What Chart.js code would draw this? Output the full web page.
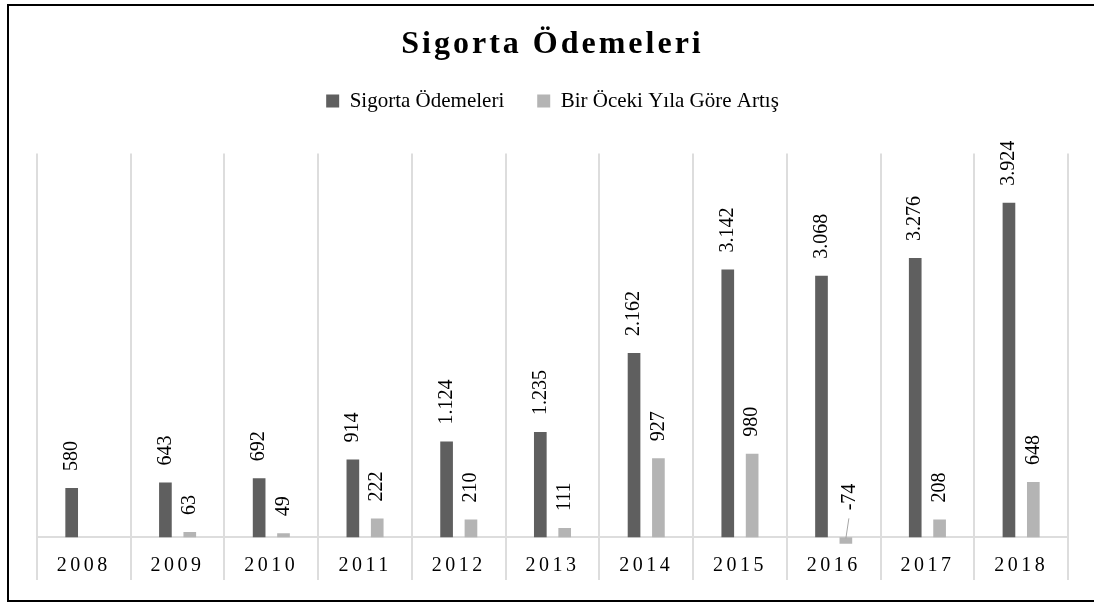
<!DOCTYPE html>
<html lang="tr">
<head>
<meta charset="utf-8">
<title>Sigorta Ödemeleri</title>
<script src="https://cdn.jsdelivr.net/npm/chart.js@4.4.1/dist/chart.umd.min.js"></script>
<style>
  html, body { margin: 0; padding: 0; background: #fff; overflow: hidden; }
  #frame { position: absolute; left: 7px; top: 4px; width: 1200px; height: 594px; border: 2px solid #000; }
  #wrap { position: absolute; left: 0; top: 0; width: 1094px; height: 610px; }
</style>
</head>
<body>
<div id="frame"></div>
<div id="wrap"><canvas id="chart"></canvas></div>
<script>
// Chart data
const years = ['2008', '2009', '2010', '2011', '2012', '2013', '2014', '2015', '2016', '2017', '2018'];
const sigortaOdemeleri = [580, 643, 692, 914, 1124, 1235, 2162, 3142, 3068, 3276, 3924];
const yillikArtis = [null, 63, 49, 222, 210, 111, 927, 980, -74, 208, 648];
const seriesNames = ['Sigorta Ödemeleri', 'Bir Öceki Yıla Göre Artış'];
const chartTitle = 'Sigorta Ödemeleri';

const FONT = '"Liberation Serif", "Times New Roman", serif';
const DARK = '#5f5f5f';
const LIGHT = '#b4b4b4';
const GRID = '#dddddd';

// 3924 -> "3.924"
function fmt(v) {
  return String(v).replace(/\B(?=(\d{3})+(?!\d))/g, '.');
}

// wrap a draw method so its text gets letter spacing
function spaceOut(obj, method, spacing) {
  if (!obj || obj['_spaced_' + method]) return;
  const orig = obj[method];
  obj[method] = function (...args) {
    const c = this.ctx;
    c.save();
    c.letterSpacing = spacing;
    orig.apply(this, args);
    c.restore();
  };
  obj['_spaced_' + method] = true;
}

const spacedText = {
  id: 'spacedText',
  beforeDraw(chart) {
    spaceOut(chart.titleBlock, 'draw', '3px');
    spaceOut(chart.scales.x, 'drawLabels', '3.5px');
  }
};

// extra room between legend and plot
const legendSpacing = {
  id: 'legendSpacing',
  beforeInit(chart) {
    const fit = chart.legend.fit;
    chart.legend.fit = function () {
      fit.call(this);
      this.height += 32;
    };
  }
};

// vertical value labels above the bars
const barLabels = {
  id: 'barLabels',
  afterDatasetsDraw(chart) {
    const ctx = chart.ctx;
    const zeroY = chart.scales.y.getPixelForValue(0);
    ctx.save();
    ctx.font = '20px ' + FONT;
    ctx.fillStyle = '#000';
    ctx.textAlign = 'left';
    ctx.textBaseline = 'middle';
    chart.data.datasets.forEach((ds, di) => {
      const meta = chart.getDatasetMeta(di);
      meta.data.forEach((bar, i) => {
        const v = ds.data[i];
        if (v === null || v === undefined) return;
        let x = bar.x;
        let y;
        if (v >= 0) {
          y = bar.y - 17;
        } else {
          // label sits above the axis with a leader line
          x = bar.x + 4;
          y = zeroY - 27;
          ctx.strokeStyle = '#a6a6a6';
          ctx.lineWidth = 1;
          ctx.beginPath();
          ctx.moveTo(bar.x, zeroY + 1);
          ctx.lineTo(bar.x + 3, zeroY - 19);
          ctx.stroke();
        }
        ctx.save();
        ctx.translate(x, y);
        ctx.rotate(-Math.PI / 2);
        ctx.fillText(fmt(v), 0, 0);
        ctx.restore();
      });
    });
    ctx.restore();
  }
};

const ctx = document.getElementById('chart').getContext('2d');
new Chart(ctx, {
  type: 'bar',
  data: {
    labels: years,
    datasets: [
      { label: seriesNames[0], data: sigortaOdemeleri, backgroundColor: DARK, borderWidth: 0 },
      { label: seriesNames[1], data: yillikArtis, backgroundColor: LIGHT, borderWidth: 0 }
    ]
  },
  options: {
    responsive: true,
    maintainAspectRatio: false,
    animation: false,
    layout: { padding: { top: 0, left: 37, right: 26, bottom: 30 } },
    datasets: { bar: { categoryPercentage: 0.52, barPercentage: 0.52 } },
    plugins: {
      title: {
        display: true,
        text: chartTitle,
        color: '#000',
        font: { family: FONT, size: 32, weight: 'bold', lineHeight: 0.8 },
        padding: { top: 32, bottom: 0 }
      },
      legend: {
        labels: {
          color: '#000',
          font: { family: FONT, size: 21 },
          boxWidth: 13,
          boxHeight: 13,
          padding: 33
        }
      },
      tooltip: { enabled: false }
    },
    scales: {
      x: {
        position: { y: 0 },
        grid: { color: GRID, lineWidth: 2, drawTicks: false, offset: true },
        border: { display: true, color: GRID, width: 2 },
        ticks: {
          color: '#000',
          font: { family: FONT, size: 20 },
          padding: 16,
          maxRotation: 0,
          autoSkip: false
        }
      },
      y: { display: false, min: -500, max: 4500 }
    }
  },
  plugins: [spacedText, legendSpacing, barLabels]
});
</script>
</body>
</html>
